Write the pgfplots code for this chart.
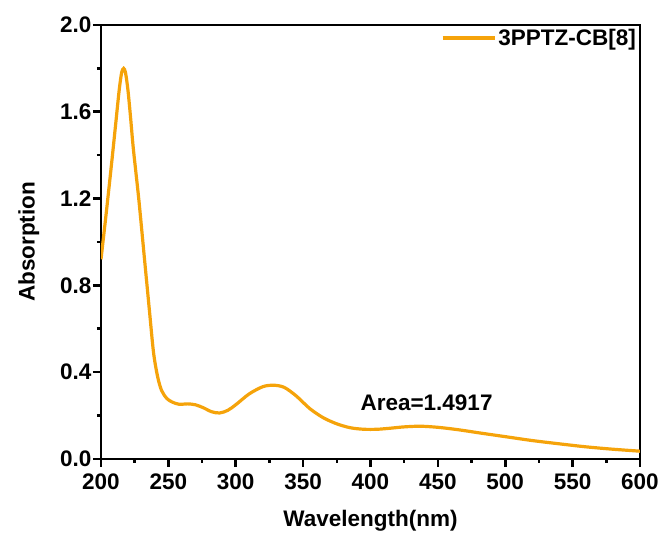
\documentclass[border=0pt]{standalone}
\usepackage{pgfplots}
\pgfplotsset{compat=1.18}
\usepackage{fontspec}
\setmainfont{Liberation Sans}
\definecolor{curve}{RGB}{245,163,10}
\begin{document}
\begin{tikzpicture}[x=1pt,y=1pt]
\path[use as bounding box] (-101pt,-76pt) rectangle (561pt,459pt);
\begin{axis}[
  scale only axis,
  width=539pt, height=434pt,
  xmin=200, xmax=600, ymin=0, ymax=2.0,
  axis line style={line width=2.8pt},
  xtick={200,250,...,600},
  ytick={0,0.4,...,2.0},
  minor xtick={225,275,...,575},
  minor ytick={0.2,0.6,...,1.8},
  tick align=outside,
  xtick pos=bottom, ytick pos=left,
  major tick length=8pt, minor tick length=4pt,
  every tick/.style={line width=2.6pt, black},
  /pgf/number format/assume math mode=true,
  yticklabel style={/pgf/number format/fixed,/pgf/number format/fixed zerofill,/pgf/number format/precision=1, font=\fontsize{22.5}{26}\selectfont\bfseries, xshift=2pt},
  xticklabel style={font=\fontsize{22.5}{26}\selectfont\bfseries, yshift=-3pt},
  xlabel={Wavelength(nm)}, ylabel={Absorption},
  xlabel style={font=\fontsize{22.5}{26}\selectfont\bfseries, yshift=-14pt},
  ylabel style={font=\fontsize{22.5}{26}\selectfont\bfseries, yshift=14pt},
  legend style={at={(1,1)}, anchor=north east, draw=none, fill=none, font=\fontsize{22.5}{26}\selectfont\bfseries, inner sep=2pt},
  legend image code/.code={\draw[#1] (0pt,0pt) -- (52pt,0pt);},
  clip=true,
]
\addplot[curve, line width=3.2pt, smooth, tension=0.5] coordinates {
(200,0.92) (204,1.14) (208,1.37) (211,1.55) (213.5,1.70) (215.3,1.78) (216.8,1.80) (218.2,1.78) (220,1.70)
(222,1.57) (224,1.43) (228,1.20) (232,0.94) (236,0.68) (239,0.49) (242,0.38) (245,0.315) (249,0.278)
(253,0.262) (258,0.252) (264,0.254) (270,0.25) (276,0.236) (282,0.218) (288,0.212)
(294,0.224) (300,0.25) (310,0.30) (320,0.333) (328,0.340) (336,0.330) (345,0.29)
(355,0.232) (365,0.19) (375,0.162) (385,0.144) (395,0.137) (405,0.137) (415,0.142)
(425,0.148) (437,0.151) (450,0.146) (465,0.135) (480,0.121) (500,0.103) (520,0.085)
(540,0.070) (560,0.056) (580,0.045) (600,0.036)
};
\addlegendentry{3PPTZ-CB[8]}
\node[anchor=west, font=\fontsize{22.5}{26}\selectfont\bfseries] at (axis cs:390,0.26) {Area=1.4917};
\end{axis}
\end{tikzpicture}
\end{document}
